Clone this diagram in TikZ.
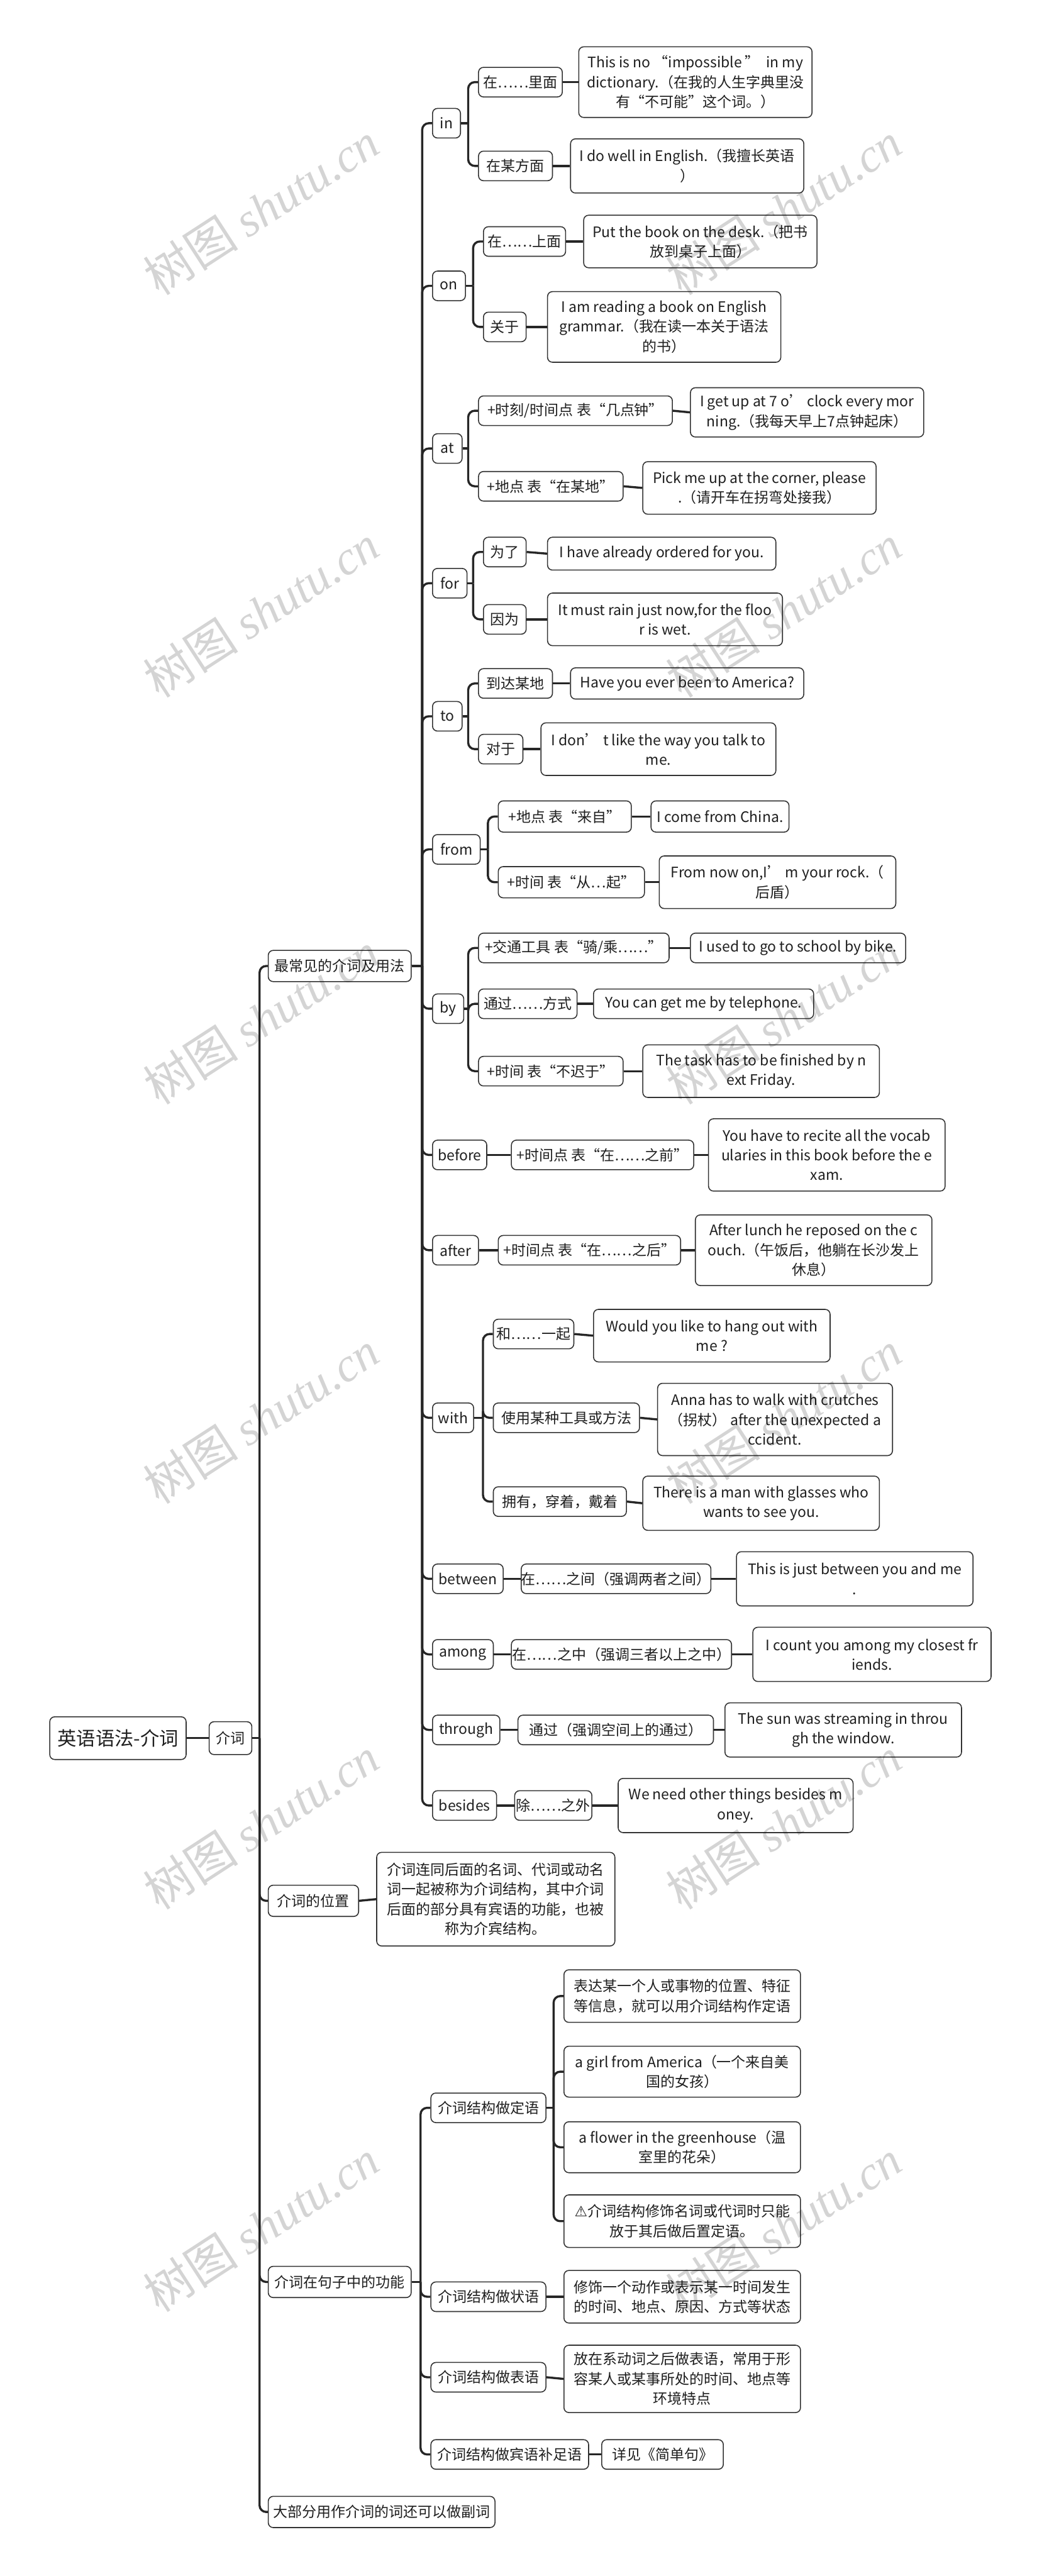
\documentclass[tikz,border=0pt]{standalone}
\usepackage{fontspec}
\setmainfont{Noto Sans CJK SC}
\newfontfamily\symfont{DejaVu Sans}
\newfontfamily\wmfont{Liberation Serif}
\newcommand\bx[7][]{\node[box,minimum width=#5pt,minimum height=#6pt,#1] (#2) at (#3,#4) {#7};}
\newcommand\lnk[3][6pt]{%
  \draw[conn] (#2.east) -- ([xshift=-#1]#3.west |- #2.east);
  \draw[conn,rounded corners=4pt] ([xshift=-#1]#3.west |- #2.east) |- (#3.west);}
\newcommand\sln[2]{\draw[conn] (#1.east) -- (#2.west);}
\newcommand\wm[2]{\node[rotate=33,text=black,text opacity=0.17,font=\fontsize{29}{29}\selectfont] at (#1,#2) {树图 {\wmfont\itshape shutu.cn}};}
\begin{document}
\begin{tikzpicture}[x=1pt,y=-1pt,
  box/.style={draw=black!80,line width=0.6pt,rounded corners=3pt,fill=white,anchor=west,
    align=center,inner sep=0pt,font=\fontsize{8.8}{12}\selectfont,text=black!88},
  conn/.style={draw=black!85,line width=1.3pt}]
\fill[white] (0,0) rectangle (631,1568);
\useasboundingbox (0,0) rectangle (631,1568);
% root
\bx[font=\fontsize{11.6}{14}\selectfont]{root}{30}{1058}{83}{26}{英语语法-介词}
\bx{jc}{127}{1058}{26}{20}{介词}
\sln{root}{jc}
% level 1
\bx{cj}{163}{588}{87}{19}{最常见的介词及用法}
\bx{wz}{163}{1157}{55}{19}{介词的位置}
\bx{gn}{163}{1389}{87}{19}{介词在句子中的功能}
\bx{fc}{163}{1529}{138}{19}{大部分用作介词的词还可以做副词}
\foreach \c in {cj,wz,gn,fc}{\lnk[5pt]{jc}{\c}}
% prepositions
\bx{in}{263}{75}{17}{18}{in}
\bx{on}{263}{174}{20}{18}{on}
\bx{at}{263}{273}{18}{18}{at}
\bx{for}{263}{355}{21}{18}{for}
\bx{to}{263}{436}{18}{18}{to}
\bx{from}{263}{517}{29}{18}{from}
\bx{by}{263}{614}{19}{18}{by}
\bx{before}{263}{703}{33}{18}{before}
\bx{after}{263}{761}{28}{18}{after}
\bx{with}{263}{863}{25}{18}{with}
\bx{between}{263}{961}{43}{18}{between}
\bx{among}{263}{1007}{37}{18}{among}
\bx{through}{263}{1053}{41}{18}{through}
\bx{besides}{263}{1099}{39}{18}{besides}
\foreach \c in {in,on,at,for,to,from,by,before,after,with,between,among,through,besides}{\lnk{cj}{\c}}
% in
\bx{in1}{291}{50}{51}{18}{在……里面}
\bx{in1e}{352}{50}{142}{43}{This is no “impossible ” \ in my\\dictionary.（在我的人生字典里没\\有“不可能”这个词。）}
\bx{in2}{291}{101}{45}{18}{在某方面}
\bx{in2e}{347}{101}{142}{33}{I do well in English.（我擅长英语\\）}
\lnk{in}{in1}\lnk{in}{in2}\sln{in1}{in1e}\sln{in2}{in2e}
% on
\bx{on1}{294}{147}{50}{18}{在……上面}
\bx{on1e}{355}{147}{142}{32}{Put the book on the desk.（把书\\放到桌子上面）}
\bx{on2}{294}{199}{26}{18}{关于}
\bx{on2e}{333}{199}{142}{43}{I am reading a book on English\\grammar.（我在读一本关于语法\\的书）}
\lnk{on}{on1}\lnk{on}{on2}\sln{on1}{on1e}\sln{on2}{on2e}
% at
\bx{at1}{291}{250}{118}{18}{+时刻/时间点 表“几点钟”}
\bx{at1e}{420}{251}{142}{30}{I get up at 7 o’ clock every mor\\ning.（我每天早上7点钟起床）}
\bx{at2}{291}{296}{88}{18}{+地点 表“在某地”}
\bx{at2e}{391}{297}{142}{32}{Pick me up at the corner, please\\.（请开车在拐弯处接我）}
\lnk{at}{at1}\lnk{at}{at2}\sln{at1}{at1e}\sln{at2}{at2e}
% for
\bx{for1}{294}{336}{26}{18}{为了}
\bx{for1e}{333}{337}{139}{20}{I have already ordered for you.}
\bx{for2}{294}{377}{26}{18}{因为}
\bx{for2e}{333}{377}{143}{32}{It must rain just now,for the floo\\r is wet.}
\lnk{for}{for1}\lnk{for}{for2}\sln{for1}{for1e}\sln{for2}{for2e}
% to
\bx{to1}{291}{416}{45}{18}{到达某地}
\bx{to1e}{347}{416}{142}{19}{Have you ever been to America?}
\bx{to2}{291}{456}{27}{18}{对于}
\bx{to2e}{329}{456}{143}{32}{I don’ t like the way you talk to\\me.}
\lnk{to}{to1}\lnk{to}{to2}\sln{to1}{to1e}\sln{to2}{to2e}
% from
\bx{fr1}{303}{497}{81}{19}{+地点 表“来自”}
\bx{fr1e}{396}{497}{84}{19}{I come from China.}
\bx{fr2}{303}{537}{89}{19}{+时间 表“从…起”}
\bx{fr2e}{401}{537}{144}{32}{From now on,I’ m your rock.（\\后盾）}
\lnk{from}{fr1}\lnk{from}{fr2}\sln{fr1}{fr1e}\sln{fr2}{fr2e}
% by
\bx{by1}{291}{577}{116}{18}{+交通工具 表“骑/乘……”}
\bx{by1e}{420}{577}{131}{18}{I used to go to school by bike.}
\bx{by2}{291}{611}{60}{18}{通过……方式}
\bx{by2e}{361}{611}{134}{18}{You can get me by telephone.}
\bx{by3}{291}{652}{88}{18}{+时间 表“不迟于”}
\bx{by3e}{391}{652}{144}{32}{The task has to be finished by n\\ext Friday.}
\lnk{by}{by1}\lnk{by}{by2}\lnk{by}{by3}\sln{by1}{by1e}\sln{by2}{by2e}\sln{by3}{by3e}
% before / after
\bx{bf1}{311}{703}{111}{18}{+时间点 表“在……之前”}
\bx{bf1e}{431}{703}{144}{44}{You have to recite all the vocab\\ularies in this book before the e\\xam.}
\sln{before}{bf1}\sln{bf1}{bf1e}
\bx{af1}{303}{761}{111}{18}{+时间点 表“在……之后”}
\bx{af1e}{423}{761}{144}{43}{After lunch he reposed on the c\\ouch.（午饭后，他躺在长沙发上\\休息）}
\sln{after}{af1}\sln{af1}{af1e}
% with
\bx{wi1}{300}{812}{49}{18}{和……一起}
\bx{wi1e}{361}{813}{144}{32}{Would you like to hang out with\\me ?}
\bx{wi2}{300}{863}{89}{18}{使用某种工具或方法}
\bx{wi2e}{400}{864}{143}{44}{Anna has to walk with crutches\\（拐杖） after the unexpected a\\ccident.}
\bx{wi3}{300}{914}{81}{18}{拥有，穿着，戴着}
\bx{wi3e}{391}{915}{144}{33}{There is a man with glasses who\\wants to see you.}
\lnk{with}{wi1}\lnk{with}{wi2}\lnk{with}{wi3}\sln{wi1}{wi1e}\sln{wi2}{wi2e}\sln{wi3}{wi3e}
% between .. besides
\bx{bt1}{317}{961}{114}{18}{在……之间（强调两者之间）}
\bx{bt1e}{448}{961}{144}{33}{This is just between you and me\\.}
\sln{between}{bt1}\sln{bt1}{bt1e}
\bx{am1}{311}{1007}{134}{18}{在……之中（强调三者以上之中）}
\bx{am1e}{458}{1007}{145}{33}{I count you among my closest fr\\iends.}
\sln{among}{am1}\sln{am1}{am1e}
\bx{th1}{315}{1053}{119}{18}{通过（强调空间上的通过）}
\bx{th1e}{441}{1053}{144}{33}{The sun was streaming in throu\\gh the window.}
\sln{through}{th1}\sln{th1}{th1e}
\bx{bs1}{313}{1099}{47}{18}{除……之外}
\bx{bs1e}{376}{1099}{143}{33}{We need other things besides m\\oney.}
\sln{besides}{bs1}\sln{bs1}{bs1e}
% position
\bx{wze}{229}{1156}{145}{57}{介词连同后面的名词、代词或动名\\词一起被称为介词结构，其中介词\\后面的部分具有宾语的功能，也被\\称为介宾结构。}
\sln{wz}{wze}
% functions
\bx{g1}{262}{1283}{70}{18}{介词结构做定语}
\bx{g2}{262}{1398}{70}{18}{介词结构做状语}
\bx{g3}{262}{1447}{70}{18}{介词结构做表语}
\bx{g4}{262}{1494}{96}{18}{介词结构做宾语补足语}
\foreach \c in {g1,g2,g3,g4}{\lnk{gn}{\c}}
\bx{d1}{343}{1215}{144}{32}{表达某一个人或事物的位置、特征\\等信息，就可以用介词结构作定语}
\bx{d2}{343}{1261}{144}{31}{a girl from America（一个来自美\\国的女孩）}
\bx{d3}{343}{1307}{144}{31}{a flower in the greenhouse（温\\室里的花朵）}
\bx{d4}{343}{1352}{144}{32}{{\symfont ⚠}介词结构修饰名词或代词时只能\\放于其后做后置定语。}
\foreach \c in {d1,d2,d3,d4}{\lnk{g1}{\c}}
\bx{g2e}{343}{1398}{144}{32}{修饰一个动作或表示某一时间发生\\的时间、地点、原因、方式等状态}
\bx{g3e}{343}{1448}{144}{41}{放在系动词之后做表语，常用于形\\容某人或某事所处的时间、地点等\\环境特点}
\bx{g4e}{366}{1494}{74}{18}{详见《简单句》}
\sln{g2}{g2e}\sln{g3}{g3e}\sln{g4}{g4e}
% watermark (drawn over the diagram, as in the reference)
\foreach \yy in {127,372,620,863,1110,1355}{\wm{159}{\yy}\wm{477}{\yy}}
\end{tikzpicture}
\end{document}
